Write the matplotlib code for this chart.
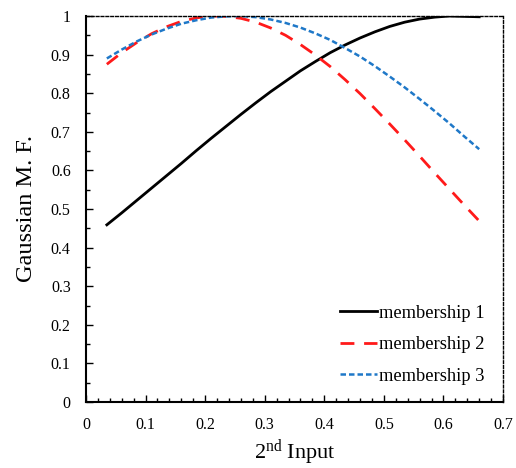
import matplotlib
matplotlib.use("Agg")
import matplotlib.pyplot as plt
from matplotlib.ticker import MultipleLocator, FuncFormatter

x = [0.035, 0.06, 0.085, 0.11, 0.135, 0.16, 0.185, 0.21, 0.235, 0.26, 0.285, 0.31, 0.335,
     0.36, 0.385, 0.41, 0.435, 0.46, 0.485, 0.51, 0.535, 0.56, 0.585, 0.61, 0.635, 0.66]
membership1 = [0.459, 0.490, 0.522, 0.554, 0.586, 0.618, 0.651, 0.683, 0.714, 0.745, 0.775, 0.804, 0.831,
               0.858, 0.882, 0.905, 0.925, 0.943, 0.959, 0.973, 0.984, 0.992, 0.997, 1.000, 0.999, 0.998]
membership2 = [0.875, 0.905, 0.931, 0.954, 0.972, 0.986, 0.995, 1.000, 0.999, 0.994, 0.984, 0.969, 0.950,
               0.926, 0.899, 0.869, 0.835, 0.799, 0.760, 0.720, 0.679, 0.637, 0.594, 0.552, 0.510, 0.469]
membership3 = [0.890, 0.913, 0.934, 0.952, 0.967, 0.980, 0.989, 0.996, 0.999, 1.000, 0.997, 0.991, 0.982,
               0.970, 0.955, 0.938, 0.917, 0.895, 0.870, 0.843, 0.815, 0.785, 0.754, 0.722, 0.688, 0.655]
labels = ["membership 1", "membership 2", "membership 3"]

plt.rcParams['font.family'] = ['Liberation Serif', 'DejaVu Serif']
plt.rcParams['mathtext.fontset'] = 'custom'
plt.rcParams['mathtext.rm'] = 'Liberation Serif'
plt.rcParams['mathtext.it'] = 'Liberation Serif:italic'
plt.rcParams['mathtext.bf'] = 'Liberation Serif:bold'

fig = plt.figure(figsize=(5.16, 4.68), dpi=100)
ax = fig.add_axes([86/516, 1-402/468, (503-86)/516, (402-16)/468])

ax.plot(x, membership1, color='black', lw=2.0, label=labels[0])
ax.plot(x, membership2, color='#ff1a1a', lw=2.0, dashes=(5, 3.5), label=labels[1])
ax.plot(x, membership3, color='#1f78c8', lw=1.8, dashes=(2.2, 1.2), label=labels[2])

ax.set_xlim(0, 0.7)
ax.set_ylim(0, 1)
ax.xaxis.set_major_locator(MultipleLocator(0.1))
ax.xaxis.set_minor_locator(MultipleLocator(0.02))
ax.yaxis.set_major_locator(MultipleLocator(0.1))
ax.yaxis.set_minor_locator(MultipleLocator(0.05))
fmt = FuncFormatter(lambda v, p: ('%g' % round(v, 2)))
ax.xaxis.set_major_formatter(fmt)
ax.yaxis.set_major_formatter(fmt)

ax.tick_params(which='both', direction='in', top=False, right=False, labelsize=11.5, width=1.0)
ax.tick_params(axis='x', which='major', length=5, pad=11)
ax.tick_params(axis='y', which='major', length=5, pad=11)
ax.tick_params(which='minor', length=3)

for s in ['left', 'bottom']:
    ax.spines[s].set_linewidth(1.5)
for s in ['top', 'right']:
    ax.spines[s].set_linewidth(1.0)
    ax.spines[s].set_linestyle((0, (2, 1.5)))

ax.set_xlabel('2$^{\\mathrm{nd}}$ Input', fontsize=16, labelpad=3)
ax.set_ylabel('Gaussian M. F.', fontsize=17.5, labelpad=10)

leg = ax.legend(loc='lower right', bbox_to_anchor=(0.955, 0.045), frameon=False, fontsize=13.3,
                handlelength=2.0, handletextpad=0.1, labelspacing=0.78,
                borderpad=0, borderaxespad=0)

fig.savefig('out.png', dpi=100)
